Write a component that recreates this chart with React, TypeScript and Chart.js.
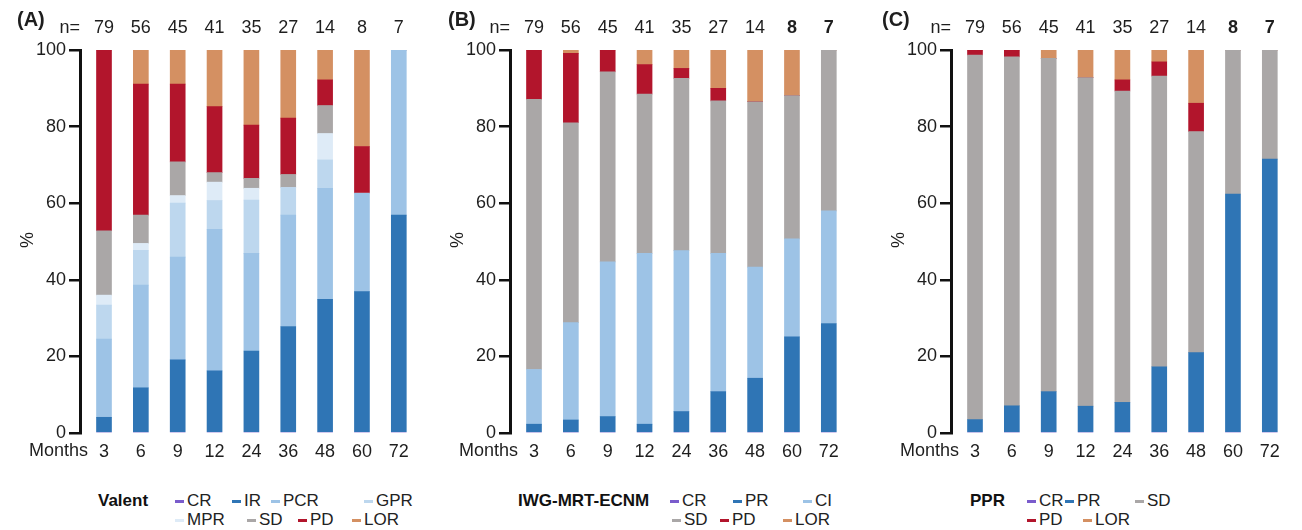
import React, { useEffect, useRef } from 'react';
import { Chart, registerables } from 'chart.js';

Chart.register(...registerables);

const FONT = "'Liberation Sans', Arial, Helvetica, sans-serif";
const TEXT = '#1e1e1e';

// ---- data ----
const months = ['3', '6', '9', '12', '24', '36', '48', '60', '72'];
const nValues = [79, 56, 45, 41, 35, 27, 14, 8, 7];

// Panel A – Valent
const valentCR = [0, 0, 0, 0, 0, 0, 0, 0, 0];
const valentIR = [4.1, 11.8, 19.1, 16.2, 21.4, 27.8, 34.9, 36.9, 56.9];
const valentPCR = [20.4, 26.8, 26.8, 37.0, 25.5, 29.1, 29.0, 25.7, 43.1];
const valentGPR = [8.9, 9.1, 14.1, 7.5, 13.9, 7.2, 7.4, 0, 0];
const valentMPR = [2.6, 1.8, 2.0, 4.8, 3.1, 0, 6.9, 0, 0];
const valentSD = [16.8, 7.4, 8.8, 2.5, 2.6, 3.4, 7.3, 0, 0];
const valentPD = [47.2, 34.2, 20.3, 17.2, 13.9, 14.7, 6.7, 12.2, 0];
const valentLOR = [0, 8.9, 8.9, 14.8, 19.6, 17.8, 7.8, 25.2, 0];

// Panel B – IWG-MRT-ECNM
const iwgCR = [0, 0, 0, 0, 0, 0, 0, 0, 0];
const iwgPR = [2.3, 3.4, 4.3, 2.3, 5.6, 10.8, 14.3, 25.1, 28.6];
const iwgCI = [14.3, 25.4, 40.4, 44.6, 42.0, 36.1, 29.0, 25.6, 29.4];
const iwgSD = [70.5, 52.2, 49.6, 41.6, 45.0, 39.8, 43.2, 37.4, 42.0];
const iwgPD = [12.9, 18.1, 5.7, 7.7, 2.6, 3.3, 0, 0, 0];
const iwgLOR = [0, 0.9, 0, 3.8, 4.8, 10.0, 13.5, 11.9, 0];

// Panel C – PPR
const pprCR = [0, 0, 0, 0, 0, 0, 0, 0, 0];
const pprPR = [3.5, 7.1, 10.8, 7.0, 8.0, 17.3, 21.0, 62.4, 71.5];
const pprSD = [95.2, 91.1, 87.0, 85.8, 81.3, 75.9, 57.7, 37.6, 28.5];
const pprPD = [1.3, 1.8, 0, 0, 2.9, 3.7, 7.4, 0, 0];
const pprLOR = [0, 0, 2.2, 7.2, 7.8, 3.1, 13.9, 0, 0];

const yTicks = [0, 20, 40, 60, 80, 100];

// ---- styles ----
const C = {
  CR: '#7a5ccc',
  DARK: '#2f75b5',
  MID: '#9dc3e6',
  LIGHT: '#bdd7ee',
  PALE: '#deebf7',
  SD: '#aaa7a7',
  PD: '#b2152c',
  LOR: '#d49062',
};

type Series = { label: string; color: string; values: number[] };
type Panel = {
  letter: string;
  left: number;
  letterX: number;
  boldN: number[];
  series: Series[];
  legendTitle: string;
  legendTitleX: number;
  legendRows: [string, number][][];
};

const PANELS: Panel[] = [
  {
    letter: '(A)',
    left: 0,
    letterX: 17,
    boldN: [],
    series: [
      { label: 'CR', color: C.CR, values: valentCR },
      { label: 'IR', color: C.DARK, values: valentIR },
      { label: 'PCR', color: C.MID, values: valentPCR },
      { label: 'GPR', color: C.LIGHT, values: valentGPR },
      { label: 'MPR', color: C.PALE, values: valentMPR },
      { label: 'SD', color: C.SD, values: valentSD },
      { label: 'PD', color: C.PD, values: valentPD },
      { label: 'LOR', color: C.LOR, values: valentLOR },
    ],
    legendTitle: 'Valent',
    legendTitleX: 98,
    legendRows: [
      [['CR', 175], ['IR', 232], ['PCR', 271], ['GPR', 364]],
      [['MPR', 175], ['SD', 247], ['PD', 298], ['LOR', 352]],
    ],
  },
  {
    letter: '(B)',
    left: 430,
    letterX: 18,
    boldN: [7, 8],
    series: [
      { label: 'CR', color: C.CR, values: iwgCR },
      { label: 'PR', color: C.DARK, values: iwgPR },
      { label: 'CI', color: C.MID, values: iwgCI },
      { label: 'SD', color: C.SD, values: iwgSD },
      { label: 'PD', color: C.PD, values: iwgPD },
      { label: 'LOR', color: C.LOR, values: iwgLOR },
    ],
    legendTitle: 'IWG-MRT-ECNM',
    legendTitleX: 518,
    legendRows: [
      [['CR', 670], ['PR', 733], ['CI', 803]],
      [['SD', 672], ['PD', 720], ['LOR', 783]],
    ],
  },
  {
    letter: '(C)',
    left: 871,
    letterX: 11,
    boldN: [7, 8],
    series: [
      { label: 'CR', color: C.CR, values: pprCR },
      { label: 'PR', color: C.DARK, values: pprPR },
      { label: 'SD', color: C.SD, values: pprSD },
      { label: 'PD', color: C.PD, values: pprPD },
      { label: 'LOR', color: C.LOR, values: pprLOR },
    ],
    legendTitle: 'PPR',
    legendTitleX: 970,
    legendRows: [
      [['CR', 1027], ['PR', 1065], ['SD', 1135]],
      [['PD', 1027], ['LOR', 1083]],
    ],
  },
];

const CANVAS_W = 430;
const CANVAS_H = 470;
const AXIS_X = 80;
const PLOT_TOP = 50;
const PLOT_BOTTOM = 433;
const PLOT_RIGHT = 420;
const FIRST_GAP = 24;
const SPACING = 36.85;
const X_MIN = -FIRST_GAP / SPACING;
const X_MAX = X_MIN + (PLOT_RIGHT - AXIS_X) / SPACING;

function makeAnnotations(panel: Panel) {
  return {
    id: 'annotations',
    afterDraw(chart: any) {
      const ctx = chart.ctx as CanvasRenderingContext2D;
      const xs = chart.scales.x;
      const area = chart.chartArea;
      ctx.save();
      ctx.fillStyle = TEXT;
      ctx.textBaseline = 'middle';
      ctx.font = `bold 20px ${FONT}`;
      ctx.textAlign = 'left';
      ctx.fillText(panel.letter, panel.letterX, 20);
      ctx.font = `18px ${FONT}`;
      ctx.textAlign = 'right';
      ctx.fillText('n=', area.left, 28);
      nValues.forEach((n, i) => {
        ctx.font = `${panel.boldN.includes(i) ? 'bold ' : ''}18px ${FONT}`;
        ctx.textAlign = 'center';
        ctx.fillText(String(n), xs.getPixelForValue(i), 28);
      });
      ctx.font = `18px ${FONT}`;
      ctx.textAlign = 'right';
      ctx.fillText('Months', area.left + 8, 451);
      ctx.translate(28.5, 240);
      ctx.rotate(-Math.PI / 2);
      ctx.textAlign = 'center';
      ctx.fillText('%', 0, 0);
      ctx.restore();
    },
  };
}

function PanelChart({ panel }: { panel: Panel }) {
  const ref = useRef<HTMLCanvasElement | null>(null);
  useEffect(() => {
    if (!ref.current) return;
    const chart = new Chart(ref.current, {
      type: 'bar',
      data: {
        datasets: panel.series.map((s) => ({
          label: s.label,
          data: s.values.map((v, i) => ({ x: i, y: v })),
          backgroundColor: s.color,
          borderWidth: 0,
          barThickness: 15,
        })),
      },
      options: {
        animation: false,
        responsive: false,
        maintainAspectRatio: false,
        devicePixelRatio: 1,
        layout: { padding: { top: PLOT_TOP, right: CANVAS_W - PLOT_RIGHT, left: 0, bottom: 0 } },
        plugins: { legend: { display: false }, tooltip: { enabled: false }, title: { display: false } },
        scales: {
          x: {
            type: 'linear',
            stacked: true,
            offset: false,
            min: X_MIN,
            max: X_MAX,
            afterFit: (s: any) => {
              s.height = CANVAS_H - PLOT_BOTTOM;
            },
            afterBuildTicks: (s: any) => {
              s.ticks = months.map((_, i) => ({ value: i }));
            },
            grid: { display: false },
            border: { display: false },
            ticks: {
              autoSkip: false,
              maxRotation: 0,
              padding: 0,
              color: TEXT,
              font: { family: FONT, size: 18 },
              callback: (_v: any, i: number) => months[i],
            },
          },
          y: {
            stacked: true,
            min: 0,
            max: 100,
            afterFit: (s: any) => {
              s.width = AXIS_X;
            },
            afterBuildTicks: (s: any) => {
              s.ticks = yTicks.map((v) => ({ value: v }));
            },
            grid: {
              display: true,
              drawOnChartArea: false,
              drawTicks: true,
              tickLength: 11,
              lineWidth: 2.5,
              color: '#111',
            },
            border: { display: true, color: '#111', width: 3 },
            ticks: {
              padding: 3,
              color: TEXT,
              font: { family: FONT, size: 18 },
            },
          },
        },
      } as any,
      plugins: [makeAnnotations(panel)],
    });
    return () => chart.destroy();
  }, [panel]);
  return (
    <div style={{ position: 'absolute', left: panel.left, top: 0, width: CANVAS_W, height: CANVAS_H }}>
      <canvas ref={ref} width={CANVAS_W} height={CANVAS_H} style={{ width: CANVAS_W, height: CANVAS_H, display: 'block' }} />
    </div>
  );
}

function Legend({ panel }: { panel: Panel }) {
  const rowY = [501, 520];
  return (
    <>
      <div
        style={{
          position: 'absolute',
          left: panel.legendTitleX,
          top: rowY[0] - 10,
          height: 20,
          lineHeight: '20px',
          fontFamily: FONT,
          fontWeight: 'bold',
          fontSize: 17,
          color: '#111',
          whiteSpace: 'nowrap',
        }}
      >
        {panel.legendTitle}
      </div>
      {panel.legendRows.map((row, r) =>
        row.map(([label, x]) => {
          const s = panel.series.find((d) => d.label === label)!;
          return (
            <div
              key={`${r}-${label}`}
              style={{
                position: 'absolute',
                left: x,
                top: rowY[r] - 10,
                height: 20,
                display: 'flex',
                alignItems: 'center',
                fontFamily: FONT,
                fontSize: 17,
                color: '#222',
                whiteSpace: 'nowrap',
              }}
            >
              <span style={{ display: 'inline-block', width: 9, height: 3, background: s.color, marginRight: 3 }} />
              <span style={{ lineHeight: '20px' }}>{label}</span>
            </div>
          );
        })
      )}
    </>
  );
}

export default function App() {
  return (
    <div style={{ position: 'absolute', left: 0, top: 0, width: 1302, height: 530, background: '#fff', overflow: 'hidden' }}>
      {PANELS.map((p) => (
        <PanelChart key={p.letter} panel={p} />
      ))}
      {PANELS.map((p) => (
        <Legend key={'lg' + p.letter} panel={p} />
      ))}
    </div>
  );
}
